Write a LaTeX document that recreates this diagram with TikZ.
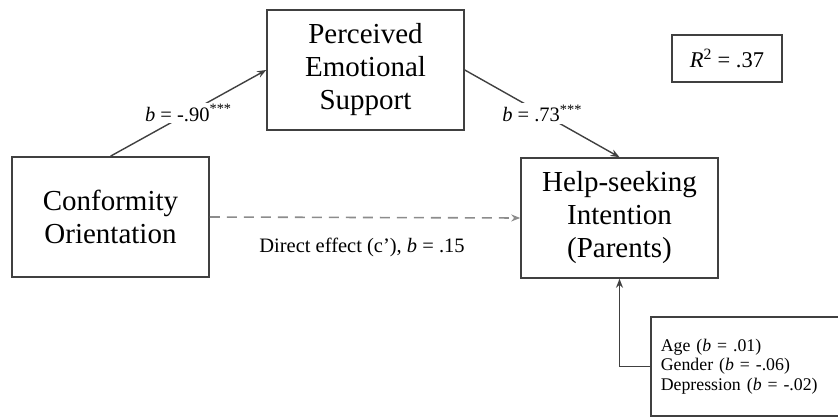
\documentclass[tikz,border=0pt]{standalone}
\usepackage{fontspec}
\setmainfont{Liberation Serif}
\usetikzlibrary{arrows.meta}
\tikzset{
  box/.style={draw=black!75, line width=1.6pt, minimum width=197pt, minimum height=120pt, inner sep=0pt, align=center, font=\rmfamily\fontsize{29}{33}\selectfont},
  conn/.style={draw=black!75, line width=1.4pt, -{Stealth[length=9pt,width=7pt]}},
  lbl/.style={font=\fontsize{20.5}{23}\selectfont, inner sep=1.5pt},
}
\begin{document}
\begin{tikzpicture}[x=1pt,y=-1pt]
\useasboundingbox (0,0) rectangle (838,417);
\node[box] (conf) at (110.5,217) {Conformity\\Orientation};
\node[box] (pes) at (365.5,70) {Perceived\\Emotional\\Support};
\node[box] (hsi) at (619.5,218) {Help-seeking\\Intention\\(Parents)};
\node[draw=black!75, line width=1.6pt, minimum width=110pt, minimum height=47pt, inner sep=0pt, font=\fontsize{22.5}{25}\selectfont] (r2) at (727,58.5) {\textit{R}\textsuperscript{2} = .37};
\node[draw=black!75, line width=1.6pt, anchor=north west, minimum width=200pt, minimum height=99pt, text width=180pt, inner xsep=10pt, align=left, font=\fontsize{17.8}{19.5}\selectfont] (cov) at (650,316) {Age (\textit{b} = .01)\\Gender (\textit{b} = -.06)\\Depression (\textit{b} = -.02)};
\draw[conn] (conf.north) -- node[lbl, fill=white, pos=0.5] {\textit{b} = -.90\textsuperscript{***}} (pes.west);
\draw[conn] (pes.east) -- node[lbl, fill=white, pos=0.5] {\textit{b} = .73\textsuperscript{***}} (hsi.north);
\draw[draw=black!45, line width=1.6pt, dash pattern=on 10pt off 7pt, -{Stealth[length=9pt,width=7pt]}] (conf.east) -- (hsi.west);
\node[lbl] (de) at (362,247) {Direct effect (c’), \textit{b} = .15};
\draw[conn] (cov.west) -| (hsi.south);
\end{tikzpicture}
\end{document}
